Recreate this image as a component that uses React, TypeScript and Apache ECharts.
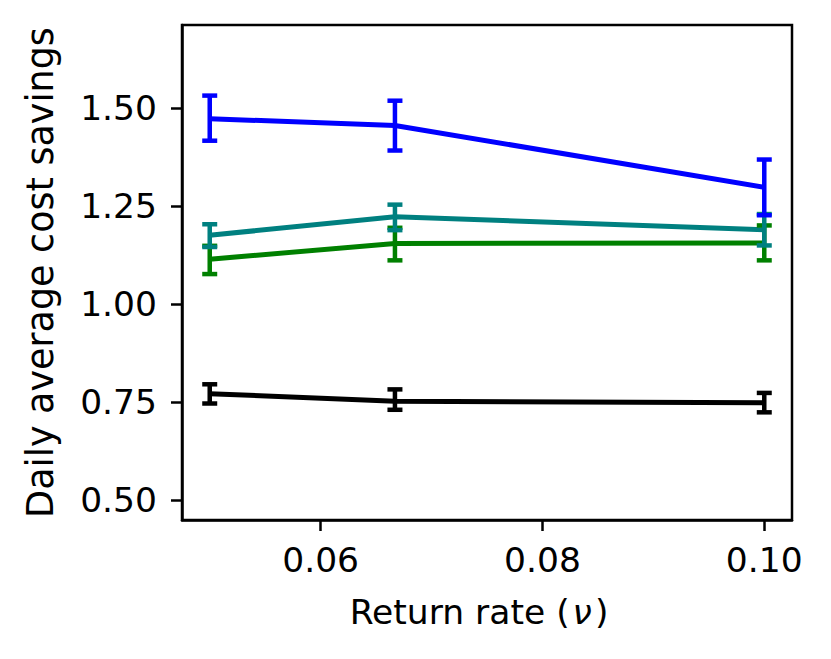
import React, { useEffect, useRef } from "react";
import * as echarts from "echarts";

const xValues = [0.05, 0.0667, 0.1];
const xTicks = [0.06, 0.08, 0.1];
const yTicks = [0.5, 0.75, 1.0, 1.25, 1.5];

const blueMean = [1.473, 1.456, 1.298];
const blueLow = [1.417, 1.392, 1.227];
const blueHigh = [1.532, 1.519, 1.369];

const tealMean = [1.176, 1.223, 1.19];
const tealLow = [1.146, 1.189, 1.15];
const tealHigh = [1.204, 1.254, 1.23];

const greenMean = [1.115, 1.155, 1.156];
const greenLow = [1.077, 1.112, 1.112];
const greenHigh = [1.149, 1.195, 1.201];

const blackMean = [0.772, 0.753, 0.749];
const blackLow = [0.747, 0.731, 0.7245];
const blackHigh = [0.796, 0.783, 0.774];

const FONT = "DejaVu Sans";

function makeSeries(name: string, color: string, mean: number[], low: number[], high: number[]) {
  const line = {
    name,
    type: "line",
    data: xValues.map((x, i) => [x, mean[i]]),
    symbol: "none",
    lineStyle: { color, width: 5 },
    z: 2,
  };
  const err = {
    name: name + "-err",
    type: "custom",
    data: xValues.map((x, i) => [x, low[i], high[i]]),
    renderItem: (params: any, api: any) => {
      const x = api.value(0);
      const lo = api.coord([x, api.value(1)]);
      const hi = api.coord([x, api.value(2)]);
      const cw = 7.5;
      const style = { stroke: color, lineWidth: 4.5, fill: "none" };
      return {
        type: "group",
        children: [
          { type: "line", shape: { x1: lo[0], y1: lo[1], x2: hi[0], y2: hi[1] }, style },
          { type: "line", shape: { x1: lo[0] - cw, y1: lo[1], x2: lo[0] + cw, y2: lo[1] }, style },
          { type: "line", shape: { x1: hi[0] - cw, y1: hi[1], x2: hi[0] + cw, y2: hi[1] }, style },
        ],
      };
    },
    z: 3,
  };
  return [line, err];
}

export default function App() {
  const ref = useRef<HTMLDivElement>(null);
  useEffect(() => {
    if (!ref.current) return;
    const chart = echarts.init(ref.current, undefined, { renderer: "svg" });
    chart.setOption({
      animation: false,
      backgroundColor: "#ffffff",
      grid: {
        left: 182,
        right: 39,
        top: 25,
        bottom: 139,
        show: true,
        borderColor: "#000",
        borderWidth: 2.5,
        backgroundColor: "transparent",
      },
      xAxis: {
        type: "value",
        min: 0.0475,
        max: 0.1025,
        name: "{n|Return rate (}{i|\u03bd}{n|)}",
        nameLocation: "middle",
        nameGap: 74,
        nameTextStyle: {
          fontFamily: FONT,
          fontSize: 34.5,
          color: "#000",
          padding: [0, 16, 0, 0],
          rich: {
            n: { fontFamily: FONT, fontSize: 34.5, color: "#000" },
            i: { fontFamily: FONT, fontSize: 34.5, color: "#000", fontStyle: "italic", padding: [0, 3, 0, 3] },
          },
        },
        axisLine: { show: true, lineStyle: { color: "#000", width: 2.5 } },
        axisTick: {
          show: true,
          inside: false,
          length: 11,
          lineStyle: { color: "#000", width: 2.5 },
          customValues: xTicks,
        },
        axisLabel: {
          fontFamily: FONT,
          fontSize: 34.5,
          color: "#000",
          margin: 22,
          customValues: xTicks,
          formatter: (v: number) => v.toFixed(2),
        },
        splitLine: { show: false },
      },
      yAxis: {
        type: "value",
        min: 0.45,
        max: 1.712,
        name: "Daily average cost savings",
        nameLocation: "middle",
        nameGap: 123,
        nameTextStyle: { fontFamily: FONT, fontSize: 36.5, color: "#000" },
        axisLine: { show: true, lineStyle: { color: "#000", width: 2.5 } },
        axisTick: {
          show: true,
          inside: false,
          length: 11,
          lineStyle: { color: "#000", width: 2.5 },
          customValues: yTicks,
        },
        axisLabel: {
          fontFamily: FONT,
          fontSize: 34.5,
          color: "#000",
          margin: 25,
          customValues: yTicks,
          formatter: (v: number) => v.toFixed(2),
        },
        splitLine: { show: false },
      },
      series: [
        ...makeSeries("black", "#000000", blackMean, blackLow, blackHigh),
        ...makeSeries("green", "#008000", greenMean, greenLow, greenHigh),
        ...makeSeries("teal", "#008080", tealMean, tealLow, tealHigh),
        ...makeSeries("blue", "#0000ff", blueMean, blueLow, blueHigh),
      ],
    });
    return () => chart.dispose();
  }, []);
  return <div ref={ref} style={{ width: 831, height: 659, position: "absolute", left: 0, top: 0 }} />;
}
